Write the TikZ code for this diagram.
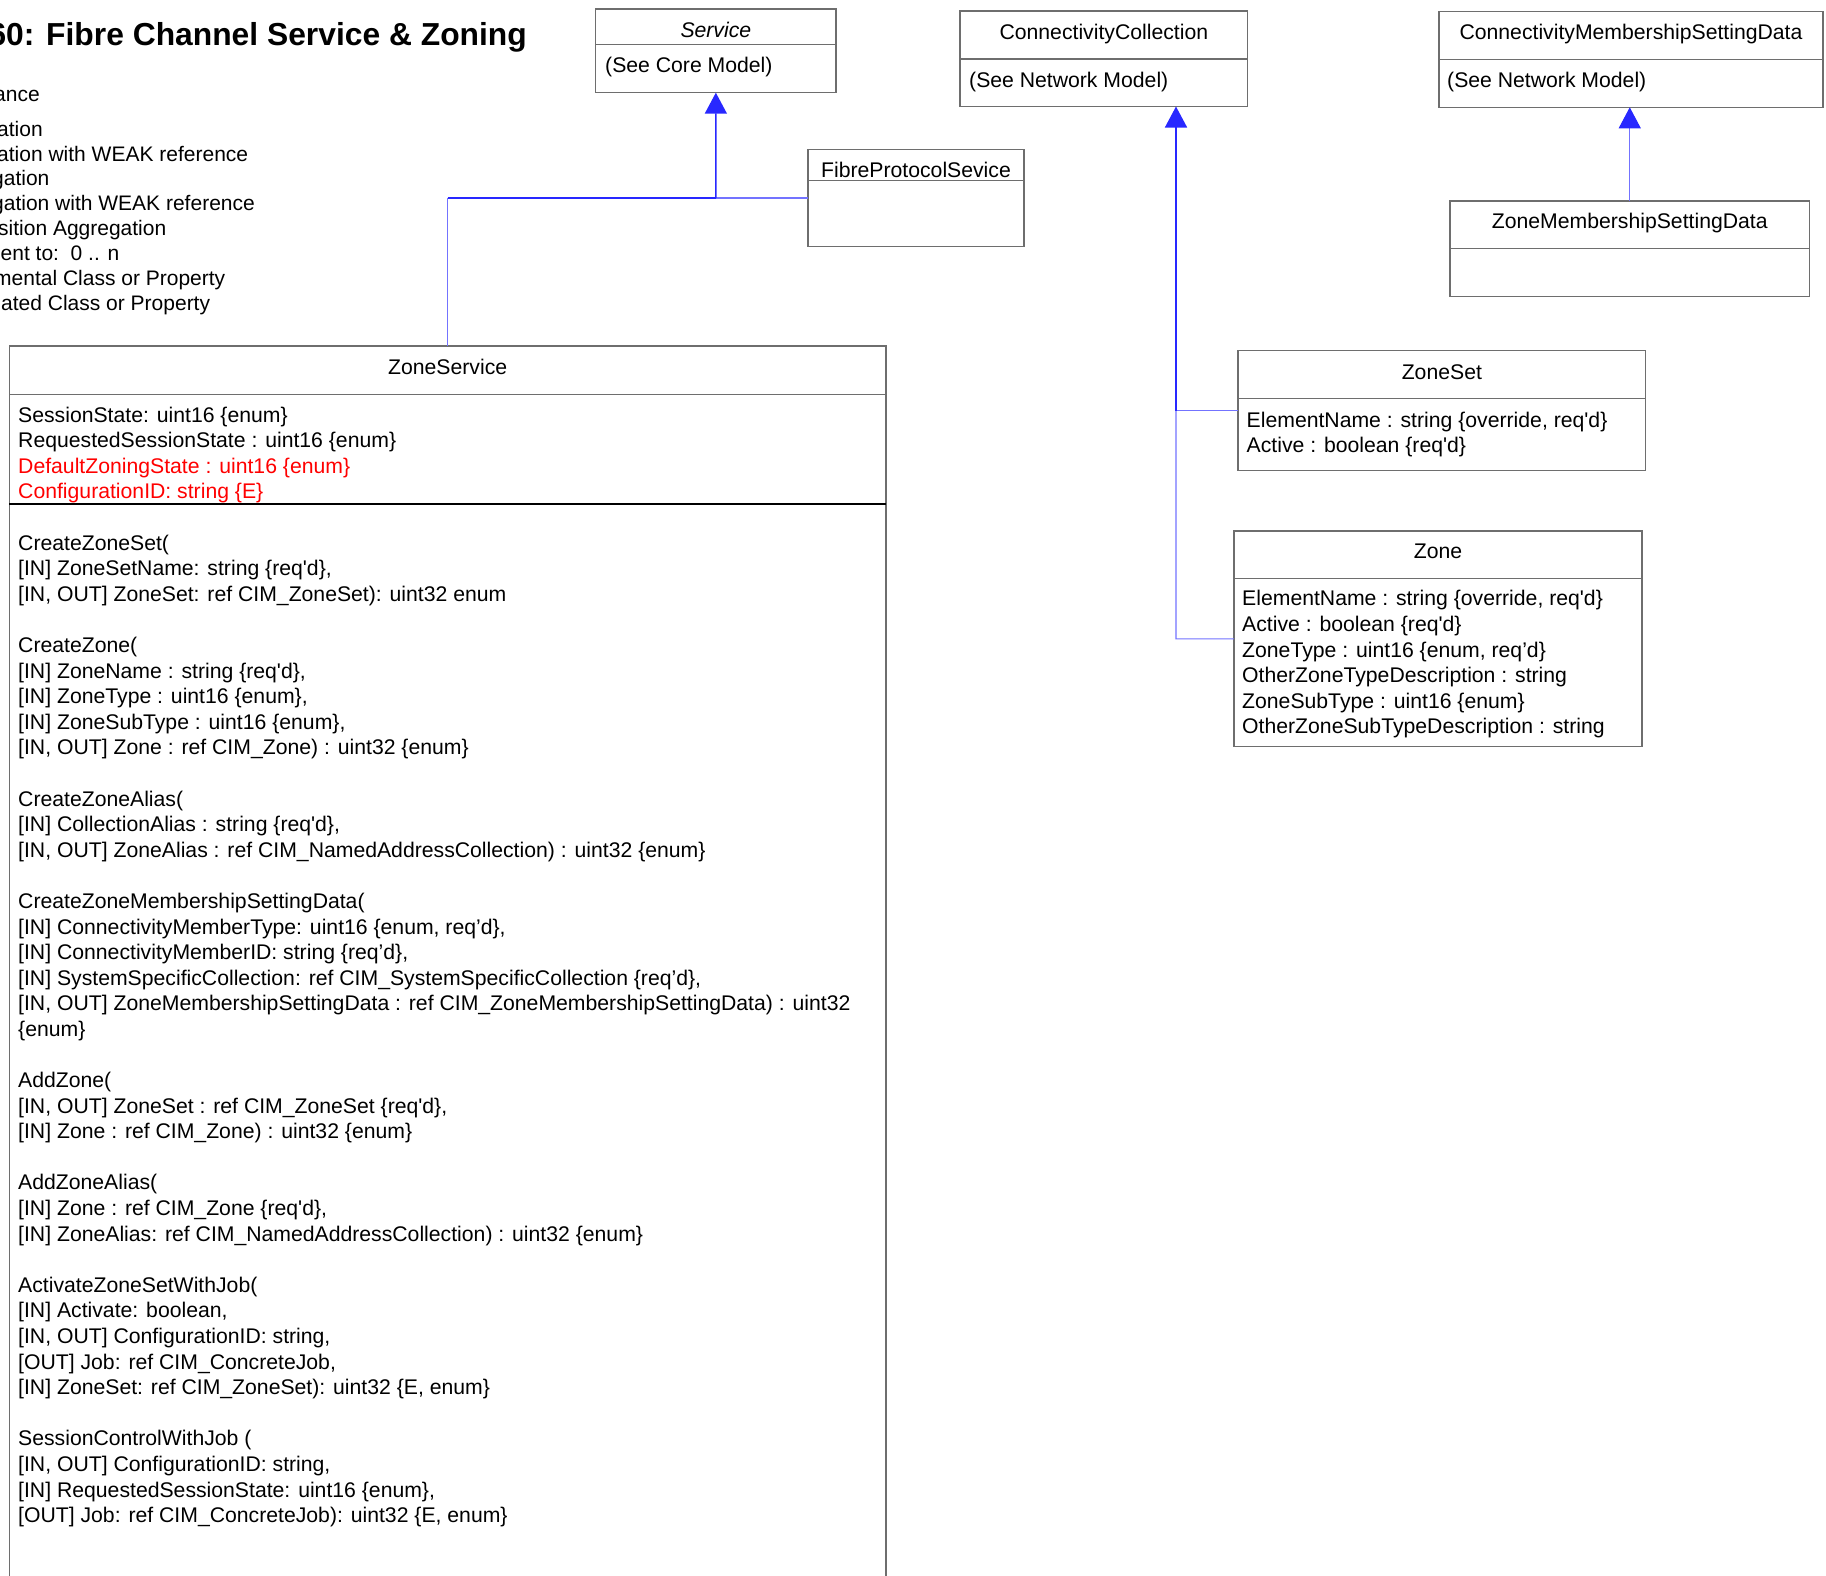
\documentclass[tikz,border=0pt]{standalone}
\usepackage{fontspec}
\newfontfamily\lsans{Liberation Sans}
\usetikzlibrary{arrows.meta}
\definecolor{bordergray}{RGB}{110,110,110}
\definecolor{genblue}{RGB}{40,40,255}
\definecolor{lightblue}{RGB}{115,115,255}
\definecolor{attrred}{RGB}{255,0,0}
\newcommand\mline[3]{\node[txt] (#1) at (18,{550.2+25.59*#2}) {#3};}
\begin{document}
\begin{tikzpicture}[x=1pt,y=-1pt,
  cls/.style={draw=bordergray, line width=1.3pt, rectangle, inner sep=0pt, outer sep=0pt, anchor=north west},
  divl/.style={draw=bordergray, line width=1.3pt},
  txt/.style={font=\lsans\fontsize{21.2}{25.6}\selectfont, inner sep=0pt, anchor=base west},
  ctr/.style={txt, anchor=base},
  lgd/.style={txt, font=\lsans\fontsize{21}{25}\selectfont},
  gen/.style={draw=genblue, line width=1.5pt},
  genlight/.style={draw=lightblue, line width=1.2pt},
  gentip/.style={-{Triangle[length=21pt,width=22pt,color=genblue]}}]
\useasboundingbox (0,0) rectangle (1826,1575);
\fill[white] (0,0) rectangle (1826,1575);
\clip (0,0) rectangle (1826,1575);

% title and legend (cut by the left edge)
\node[txt, font=\lsans\bfseries\fontsize{31.8}{36}\selectfont] (ttl) at (-11.7,45) {60: Fibre Channel Service \& Zoning};
\node[lgd] (lg1) at (-6,101) {ance};
\node[lgd] (lg2) at (-3,136.5) {ation};
\node[lgd] (lg3) at (-3,161) {ation with WEAK reference};
\node[lgd] (lg4) at (-8,185.5) {gation};
\node[lgd] (lg5) at (-8,210.5) {gation with WEAK reference};
\node[lgd] (lg6) at (-2,235.5) {sition Aggregation};
\node[lgd] (lg7) at (0.5,260) {ent to:\ \ 0 .. n};
\node[lgd] (lg8) at (-6,285.5) {mental Class or Property};
\node[lgd] (lg9) at (1,310) {ated Class or Property};

% class boxes
\node[cls, minimum width=240.3pt, minimum height=83.7pt] (svc) at (595.7,9) {};
\node[cls, minimum width=287.7pt, minimum height=95.5pt] (cc) at (960,11) {};
\node[cls, minimum width=384pt, minimum height=95.6pt] (cmsd) at (1439,11.7) {};
\node[cls, minimum width=359.5pt, minimum height=95.7pt] (zmsd) at (1450,201) {};
\node[cls, minimum width=216pt, minimum height=97.4pt] (fps) at (808,149.3) {};
\node[cls, minimum width=407.7pt, minimum height=120pt] (zset) at (1238,350.7) {};
\node[cls, minimum width=408pt, minimum height=215.7pt] (zone) at (1234,531) {};
\node[cls, minimum width=876.7pt, minimum height=1300pt] (zs) at (9.3,346) {};

% dividers
\draw[divl] (595.7,44.3) -- (836,44.3);
\draw[divl] (960,59) -- (1247.7,59);
\draw[divl] (1439,59.3) -- (1823,59.3);
\draw[divl] (1450,248.3) -- (1809.5,248.3);
\draw[divl] (808,180.5) -- (1024,180.5);
\draw[divl] (1238,398.5) -- (1645.7,398.5);
\draw[divl] (1234,578.3) -- (1642,578.3);
\draw[divl] (9.3,394.8) -- (886,394.8);
\draw[draw=black, line width=2pt] (9.3,504.2) -- (886,504.2);

% texts of classes
\node[ctr, font=\lsans\itshape\fontsize{21.2}{25.6}\selectfont] (svct) at (715.85,37.5) {Service};
\node[txt] (svca) at (605,72.5) {(See Core Model)};
\node[ctr] (cct) at (1103.85,39) {ConnectivityCollection};
\node[txt] (cca) at (969,87) {(See Network Model)};
\node[ctr] (cmsdt) at (1631,39) {ConnectivityMembershipSettingData};
\node[txt] (cmsda) at (1447,87) {(See Network Model)};
\node[ctr] (zmsdt) at (1629.75,228.5) {ZoneMembershipSettingData};
\node[ctr] (fpst) at (916,177) {FibreProtocolSevice};
\node[ctr] (zsett) at (1441.85,379) {ZoneSet};
\node[txt] (zseta1) at (1246.5,427) {ElementName : string \{override, req'd\}};
\node[txt] (zseta2) at (1246.5,452.6) {Active : boolean \{req'd\}};
\node[ctr] (zonet) at (1438,558.5) {Zone};
\node[txt] (zonea1) at (1242,605.8) {ElementName : string \{override, req'd\}};
\node[txt] (zonea2) at (1242,631.4) {Active : boolean \{req'd\}};
\node[txt] (zonea3) at (1242,657) {ZoneType : uint16 \{enum, req’d\}};
\node[txt] (zonea4) at (1242,682.6) {OtherZoneTypeDescription : string};
\node[txt] (zonea5) at (1242,708.2) {ZoneSubType : uint16 \{enum\}};
\node[txt] (zonea6) at (1242,733.8) {OtherZoneSubTypeDescription : string};
\node[ctr] (zst) at (447.65,374) {ZoneService};
\node[txt] (zsa1) at (18,422.1) {SessionState: uint16 \{enum\}};
\node[txt] (zsa2) at (18,447.7) {RequestedSessionState : uint16 \{enum\}};
\node[txt, text=attrred] (zsa3) at (18,473.3) {DefaultZoningState : uint16 \{enum\}};
\node[txt, text=attrred] (zsa4) at (18,498.9) {ConfigurationID: string \{E\}};

% methods of ZoneService
\mline{m0}{0}{CreateZoneSet(}
\mline{m1}{1}{[IN] ZoneSetName: string \{req'd\},}
\mline{m2}{2}{[IN, OUT] ZoneSet: ref CIM\_ZoneSet): uint32 enum}
\mline{m4}{4}{CreateZone(}
\mline{m5}{5}{[IN] ZoneName : string \{req'd\},}
\mline{m6}{6}{[IN] ZoneType : uint16 \{enum\},}
\mline{m7}{7}{[IN] ZoneSubType : uint16 \{enum\},}
\mline{m8}{8}{[IN, OUT] Zone : ref CIM\_Zone) : uint32 \{enum\}}
\mline{m10}{10}{CreateZoneAlias(}
\mline{m11}{11}{[IN] CollectionAlias : string \{req'd\},}
\mline{m12}{12}{[IN, OUT] ZoneAlias : ref CIM\_NamedAddressCollection) : uint32 \{enum\}}
\mline{m14}{14}{CreateZoneMembershipSettingData(}
\mline{m15}{15}{[IN] ConnectivityMemberType: uint16 \{enum, req’d\},}
\mline{m16}{16}{[IN] ConnectivityMemberID: string \{req’d\},}
\mline{m17}{17}{[IN] SystemSpecificCollection: ref CIM\_SystemSpecificCollection \{req’d\},}
\mline{m18}{18}{[IN, OUT] ZoneMembershipSettingData : ref CIM\_ZoneMembershipSettingData) : uint32}
\mline{m19}{19}{\{enum\}}
\mline{m21}{21}{AddZone(}
\mline{m22}{22}{[IN, OUT] ZoneSet : ref CIM\_ZoneSet \{req'd\},}
\mline{m23}{23}{[IN] Zone : ref CIM\_Zone) : uint32 \{enum\}}
\mline{m25}{25}{AddZoneAlias(}
\mline{m26}{26}{[IN] Zone : ref CIM\_Zone \{req'd\},}
\mline{m27}{27}{[IN] ZoneAlias: ref CIM\_NamedAddressCollection) : uint32 \{enum\}}
\mline{m29}{29}{ActivateZoneSetWithJob(}
\mline{m30}{30}{[IN] Activate: boolean,}
\mline{m31}{31}{[IN, OUT] ConfigurationID: string,}
\mline{m32}{32}{[OUT] Job: ref CIM\_ConcreteJob,}
\mline{m33}{33}{[IN] ZoneSet: ref CIM\_ZoneSet): uint32 \{E, enum\}}
\mline{m35}{35}{SessionControlWithJob (}
\mline{m36}{36}{[IN, OUT] ConfigurationID: string,}
\mline{m37}{37}{[IN] RequestedSessionState: uint16 \{enum\},}
\mline{m38}{38}{[OUT] Job: ref CIM\_ConcreteJob): uint32 \{E, enum\}}

% inheritance connectors
\coordinate (j1) at (715.85,198);
\coordinate (j0) at (zs.north |- j1);
\draw[genlight] (fps.west) -- (j1);
\draw[genlight] (zs.north) -- (j0);
\draw[gen, line width=1.2pt] (j0) -- (j1);
\draw[gen, gentip] (j1) -- (svc.south);

\coordinate (t1) at (1176,410.7);
\coordinate (t2) at (1176,638.85);
\draw[genlight] (zset.west) -- (t1);
\draw[genlight] (zone.west) -- (t2) -- (t1);
\draw[gen, gentip] (t1) -- (t1 |- cc.south);

\draw[genlight, gentip] (zmsd.north) -- (zmsd.north |- cmsd.south);
\end{tikzpicture}
\end{document}
